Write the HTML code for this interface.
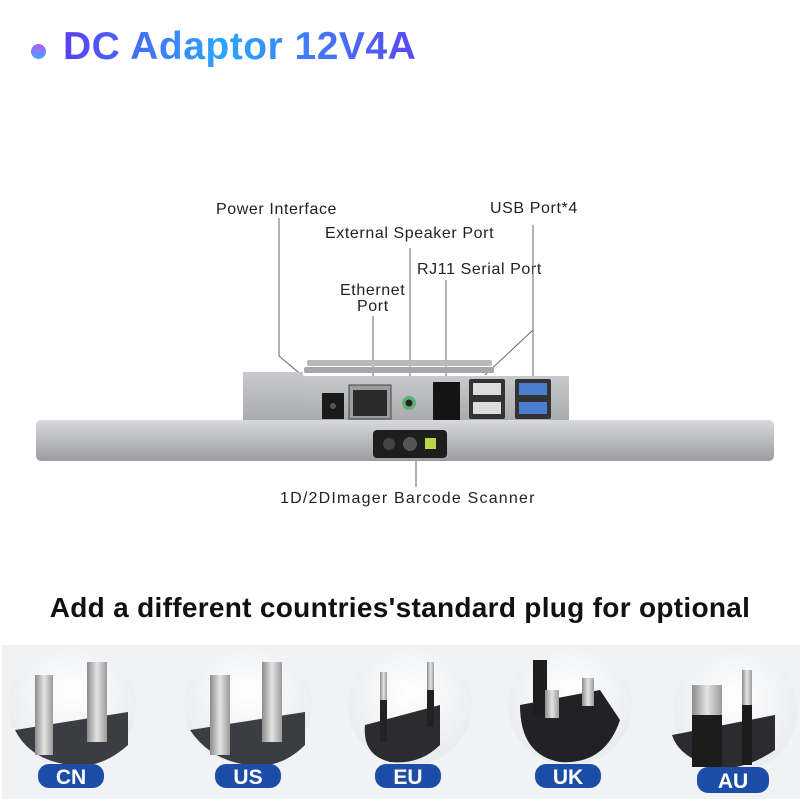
<!DOCTYPE html>
<html><head><meta charset="utf-8"><style>
html,body{margin:0;padding:0;background:#fff;}
body{width:800px;height:799px;position:relative;overflow:hidden;font-family:"Liberation Sans","DejaVu Sans",sans-serif;}
.title{position:absolute;left:63px;top:25px;font-size:39px;font-weight:bold;background:linear-gradient(90deg,#5a3ff0,#2aa6ff 45%,#5a48f0);-webkit-background-clip:text;background-clip:text;color:transparent;letter-spacing:0.5px;}
.dot{position:absolute;left:31px;top:44px;width:15px;height:15px;border-radius:50%;background:linear-gradient(#b45cf5,#3fa5ff);}
.sub{position:absolute;left:0;width:800px;top:592px;text-align:center;font-size:28px;font-weight:bold;color:#111;font-family:"Liberation Sans",sans-serif;letter-spacing:0.3px;}
</style></head><body>
<div class="dot"></div>
<div class="title">DC Adaptor 12V4A</div>
<svg width="800" height="799" style="position:absolute;left:0;top:0">
<defs>
<linearGradient id="bar" x1="0" y1="0" x2="0" y2="1"><stop offset="0" stop-color="#d8d9dc"/><stop offset="0.5" stop-color="#b9bbbf"/><stop offset="1" stop-color="#9a9ca0"/></linearGradient>
<linearGradient id="box" x1="0" y1="0" x2="0" y2="1"><stop offset="0" stop-color="#c8c9cc"/><stop offset="1" stop-color="#a9abaf"/></linearGradient>
<radialGradient id="ov" cx="0.5" cy="0.4" r="0.6"><stop offset="0" stop-color="#ffffff"/><stop offset="1" stop-color="#e8ebef"/></radialGradient>
<linearGradient id="pin" x1="0" y1="0" x2="1" y2="0"><stop offset="0" stop-color="#8c8c8c"/><stop offset="0.5" stop-color="#e4e4e4"/><stop offset="1" stop-color="#9a9a9a"/></linearGradient>
</defs>
<g font-family="Liberation Sans, DejaVu Sans, sans-serif" font-size="16" fill="#222" letter-spacing="0.6">
<text x="216" y="214">Power  Interface</text>
<text x="490" y="213">USB Port*4</text>
<text x="325" y="238">External Speaker Port</text>
<text x="417" y="274">RJ11 Serial Port</text>
<text x="340" y="295">Ethernet</text>
<text x="357" y="311">Port</text>
<text x="280" y="503" letter-spacing="1.2">1D/2DImager Barcode Scanner</text>
</g>
<g stroke="#666" stroke-width="1" fill="none">
<polyline points="279,218 279,356 322,392"/>
<line x1="373" y1="316" x2="373" y2="384"/>
<line x1="410" y1="248" x2="410" y2="390"/>
<line x1="446" y1="280" x2="446" y2="381"/>
<line x1="533" y1="225" x2="533" y2="377"/>
<line x1="533" y1="330" x2="485" y2="375"/>
<line x1="416" y1="461" x2="416" y2="487"/>
</g>
<rect x="307" y="360" width="185" height="6" fill="#b8b9bc" rx="2"/>
<rect x="304" y="367" width="190" height="6" fill="#a5a7aa" rx="2"/>
<rect x="243" y="372" width="60" height="48" fill="url(#box)"/>
<rect x="303" y="376" width="266" height="44" fill="url(#box)"/>
<rect x="322" y="393" width="22" height="26" fill="#1a1a1a"/>
<circle cx="333" cy="406" r="3" fill="#555"/>
<rect x="349" y="385" width="42" height="34" fill="#9c9d9f" stroke="#444"/>
<rect x="353" y="390" width="34" height="26" fill="#2a2a2a"/>
<circle cx="409" cy="403" r="7" fill="#5fae74"/><circle cx="409" cy="403" r="3.5" fill="#222"/>
<rect x="433" y="382" width="27" height="38" fill="#141414"/>
<rect x="469" y="379" width="36" height="40" fill="#333" rx="2"/>
<rect x="473" y="383" width="28" height="12" fill="#ddd"/><rect x="473" y="402" width="28" height="12" fill="#ddd"/>
<rect x="515" y="379" width="36" height="40" fill="#333" rx="2"/>
<rect x="519" y="383" width="28" height="12" fill="#4a7fd0"/><rect x="519" y="402" width="28" height="12" fill="#4a7fd0"/>
<rect x="36" y="420" width="738" height="41" rx="5" fill="url(#bar)"/>
<rect x="373" y="430" width="74" height="28" rx="4" fill="#1e1e1e"/>
<circle cx="389" cy="444" r="6" fill="#444"/><circle cx="410" cy="444" r="7" fill="#555"/>
<rect x="425" y="438" width="11" height="11" fill="#b8d84a"/>
<rect x="2" y="645" width="798" height="154" fill="#f1f2f4"/>
<g>
<ellipse cx="72" cy="705" rx="64" ry="60" fill="url(#ov)"/>
<path d="M15 730 L128 712 L128 745 Q100 770 70 765 Q30 760 15 730Z" fill="#3b3d42"/>
<rect x="35" y="675" width="18" height="80" fill="url(#pin)"/><rect x="87" y="662" width="20" height="80" fill="url(#pin)"/>
<ellipse cx="248" cy="705" rx="64" ry="60" fill="url(#ov)"/>
<path d="M190 730 L305 712 L305 745 Q280 770 248 765 Q210 760 190 730Z" fill="#3b3d42"/>
<rect x="210" y="675" width="20" height="80" fill="url(#pin)"/><rect x="262" y="662" width="20" height="80" fill="url(#pin)"/>
<ellipse cx="410" cy="705" rx="62" ry="60" fill="url(#ov)"/>
<path d="M365 725 L440 705 L440 745 Q420 765 390 762 Q362 755 365 725Z" fill="#2c2c30"/>
<rect x="380" y="672" width="7" height="70" fill="#222"/><rect x="427" y="662" width="7" height="65" fill="#222"/>
<rect x="380" y="672" width="7" height="28" fill="url(#pin)"/><rect x="427" y="662" width="7" height="28" fill="url(#pin)"/>
<ellipse cx="570" cy="705" rx="62" ry="60" fill="url(#ov)"/>
<path d="M520 705 L600 690 L620 720 Q605 765 560 762 Q520 755 520 705Z" fill="#222226"/>
<rect x="533" y="660" width="14" height="55" fill="#1e1e1e"/>
<rect x="545" y="690" width="14" height="28" fill="url(#pin)"/><rect x="582" y="678" width="12" height="28" fill="url(#pin)"/>
<ellipse cx="735" cy="710" rx="62" ry="62" fill="url(#ov)"/>
<path d="M672 735 L775 715 L775 750 Q745 770 720 768 Q680 760 672 735Z" fill="#2c2c30"/>
<rect x="692" y="685" width="30" height="82" fill="#1c1c1c"/><rect x="692" y="685" width="30" height="30" fill="url(#pin)"/>
<rect x="742" y="670" width="10" height="95" fill="#1c1c1c"/><rect x="742" y="670" width="10" height="35" fill="url(#pin)"/>
</g>
<g font-family="Liberation Sans Narrow, Liberation Sans, sans-serif" font-weight="bold" font-size="21" fill="#fff" text-anchor="middle">
<rect x="38" y="764" width="66" height="24" rx="11" fill="#1c4ea8"/><text x="71" y="784">CN</text>
<rect x="215" y="764" width="66" height="24" rx="11" fill="#1c4ea8"/><text x="248" y="784">US</text>
<rect x="375" y="764" width="66" height="24" rx="11" fill="#1c4ea8"/><text x="408" y="784">EU</text>
<rect x="535" y="764" width="66" height="24" rx="11" fill="#1c4ea8"/><text x="568" y="784">UK</text>
<rect x="697" y="767" width="72" height="26" rx="11" fill="#1c4ea8"/><text x="733" y="788">AU</text>
</g>
</svg>
<div class="sub">Add a different countries'standard plug for optional</div>
</body></html>
